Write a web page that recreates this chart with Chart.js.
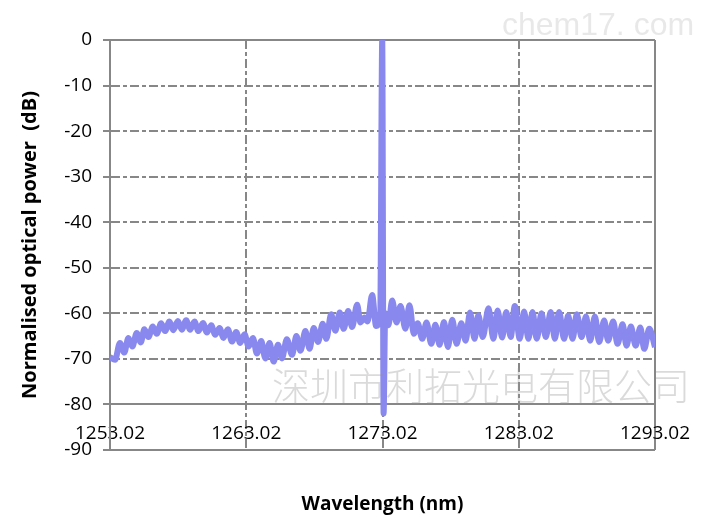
<!DOCTYPE html>
<html>
<head>
<meta charset="utf-8">
<script src="https://cdn.jsdelivr.net/npm/chart.js@4.4.1/dist/chart.umd.min.js"></script>
<style>
  html, body { margin: 0; padding: 0; background: #fff; }
</style>
</head>
<body>
<canvas id="spectrumChart" width="706" height="521"></canvas>
<script>
// Valores (picos e vales alternados)
const wavelength = [
  1253.02, 1253.39, 1253.75, 1254.07, 1254.37, 1254.66, 1254.98, 1255.28, 1255.54, 1255.84,
  1256.16, 1256.45, 1256.77, 1257.06, 1257.38, 1257.67, 1258.00, 1258.29, 1258.61, 1258.90,
  1259.22, 1259.51, 1259.84, 1260.13, 1260.45, 1260.74, 1261.06, 1261.35, 1261.67, 1261.97,
  1262.28, 1262.58, 1262.90, 1263.19, 1263.51, 1263.80, 1264.12, 1264.42, 1264.73, 1265.03,
  1265.35, 1265.64, 1266.00, 1266.38, 1266.70, 1267.00, 1267.36, 1267.67, 1267.97, 1268.29,
  1268.63, 1268.90, 1269.25, 1269.56, 1269.88, 1270.17, 1270.50, 1270.79, 1271.16, 1271.40,
  1271.70, 1271.92, 1272.26, 1272.55, 1272.85, 1273.00, 1273.10, 1273.22, 1273.45, 1273.73,
  1274.05, 1274.34, 1274.70, 1275.00, 1275.32, 1275.60, 1275.94, 1276.25, 1276.60, 1276.90,
  1277.21, 1277.53, 1277.82, 1278.14, 1278.46, 1278.80, 1279.12, 1279.44, 1279.78, 1280.05,
  1280.38, 1280.80, 1281.16, 1281.47, 1281.80, 1282.10, 1282.43, 1282.73, 1283.09, 1283.41,
  1283.73, 1284.03, 1284.34, 1284.69, 1285.00, 1285.37, 1285.67, 1285.98, 1286.35, 1286.64,
  1286.97, 1287.28, 1287.63, 1287.95, 1288.26, 1288.61, 1288.92, 1289.29, 1289.58, 1289.95,
  1290.27, 1290.64, 1290.93, 1291.25, 1291.60, 1291.94, 1292.23, 1292.60, 1293.02
];
const power = [
  -69.6, -70.2, -66.5, -68.6, -65.4, -67.3, -64.3, -66.4, -63.5, -65.2,
  -62.9, -64.5, -62.2, -63.9, -61.8, -63.7, -61.7, -63.6, -61.5, -63.6,
  -61.8, -63.9, -62.1, -64.2, -62.6, -64.7, -63.2, -65.4, -63.5, -66.2,
  -64.1, -66.5, -64.6, -67.3, -65.4, -68.8, -66.1, -69.9, -66.5, -70.6,
  -66.9, -69.9, -65.7, -69.1, -65.0, -68.2, -63.9, -67.8, -63.2, -66.3,
  -62.3, -65.6, -60.2, -63.8, -59.8, -63.4, -59.5, -63.0, -58.1, -62.0,
  -60.9, -61.8, -56.0, -62.8, -61.5, 0, -82.0, -60.0, -62.6, -57.2,
  -62.0, -58.4, -63.4, -58.2, -64.5, -62.2, -65.6, -62.0, -66.7, -62.5,
  -66.9, -61.9, -67.4, -61.4, -66.7, -62.2, -66.0, -59.8, -65.6, -60.4,
  -65.2, -58.9, -65.6, -59.4, -65.3, -59.7, -65.2, -58.4, -65.6, -59.6,
  -65.6, -59.7, -65.6, -60.0, -65.2, -59.7, -65.6, -59.7, -65.6, -60.5,
  -65.6, -60.2, -65.2, -60.7, -66.0, -60.7, -66.3, -61.6, -66.0, -61.8,
  -66.7, -62.4, -67.1, -62.9, -67.1, -63.1, -67.8, -63.4, -67.4
];
const xTicks = [1253.02, 1263.02, 1273.02, 1283.02, 1293.02];
const yMin = -90;
const yMax = 0;

const gridColor = "#878787";
const dashDot = [9, 3, 4, 3];

// Marcas d'água do original
const watermarkPlugin = {
  id: "watermark",
  afterDraw(chart) {
    const ctx = chart.ctx;
    ctx.save();
    ctx.textBaseline = "middle";
    ctx.textAlign = "left";
    ctx.fillStyle = "rgba(150, 150, 150, 0.22)";
    ctx.font = '32px "Liberation Sans"';
    ctx.fillText("chem17. com", 502, 26);
    ctx.fillStyle = "rgba(150, 150, 150, 0.35)";
    ctx.font = '300 38px "Noto Sans CJK SC"';
    ctx.fillText("深圳市利拓光电有限公司", 272, 386);
    ctx.restore();
  }
};

const ctx = document.getElementById("spectrumChart").getContext("2d");
const spectrumChart = new Chart(ctx, {
  type: "line",
  data: {
    datasets: [{
      data: wavelength.map((w, i) => ({ x: w, y: power[i] })),
      borderColor: "rgb(136, 136, 238)",
      borderWidth: 6,
      pointRadius: 0,
      cubicInterpolationMode: "monotone",
      fill: false
    }]
  },
  options: {
    responsive: false,
    animation: false,
    devicePixelRatio: 1,
    layout: { padding: { left: 0, right: 51, top: 40, bottom: 0 } },
    plugins: {
      legend: { display: false },
      tooltip: { enabled: false },
      title: {
        display: true,
        text: "Wavelength (nm)",
        position: "bottom",
        fullSize: false,
        color: "#000",
        font: { family: "Open Sans", size: 19, weight: "bold" },
        padding: { top: 43.6, bottom: 4.6 }
      }
    },
    scales: {
      x: {
        type: "linear",
        min: 1253.02,
        max: 1293.02,
        position: { y: -80 },
        afterBuildTicks: (scale) => {
          scale.ticks = xTicks.map(v => ({ value: v }));
        },
        afterFit: (scale) => {
          scale.paddingLeft = 0;
          scale.paddingRight = 0;
        },
        ticks: {
          autoSkip: false,
          maxRotation: 0,
          padding: 18,
          color: "#000",
          font: { family: "Open Sans", size: 19 },
          callback: (v) => Number(v).toFixed(2)
        },
        grid: { color: gridColor, lineWidth: 2, drawTicks: false },
        border: {
          display: true,
          color: gridColor,
          width: 2,
          dash: (c) => (c.index === 0 || c.index === xTicks.length - 1) ? [] : dashDot
        }
      },
      y: {
        min: yMin,
        max: yMax,
        afterFit: (scale) => { scale.width = 110; },
        ticks: {
          stepSize: 10,
          padding: 11,
          color: "#000",
          font: { family: "Open Sans", size: 19 }
        },
        grid: {
          color: gridColor,
          lineWidth: 2,
          tickLength: 7,
          tickColor: gridColor,
          tickWidth: 2,
          tickBorderDash: []
        },
        border: {
          display: true,
          color: gridColor,
          width: 2,
          dash: (c) => {
            const v = c.tick ? c.tick.value : null;
            return (v === 0 || v === -80 || v === -90) ? [] : dashDot;
          }
        },
        title: {
          display: true,
          text: "Normalised optical power  (dB)",
          color: "#000",
          font: { family: "Open Sans", size: 20, weight: "bold" },
          padding: { top: 18, bottom: 0 }
        }
      }
    }
  },
  plugins: [watermarkPlugin]
});
</script>
</body>
</html>
